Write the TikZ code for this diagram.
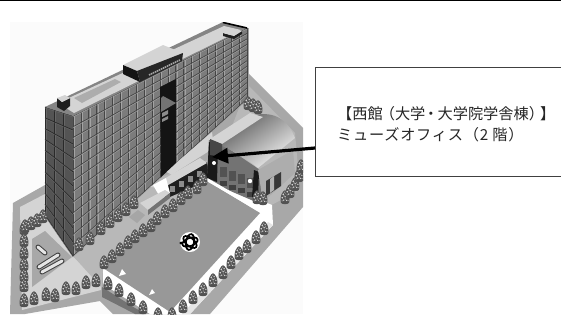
\documentclass[tikz,border=0pt]{standalone}
\usepackage{fontspec}
\usetikzlibrary{calc,arrows.meta}
\newfontfamily\jpwide{Noto Sans CJK JP}
\newfontfamily\jpspaced[LetterSpace=5]{Noto Sans CJK JP}
\definecolor{lotgray}{HTML}{A8A8A8}
\definecolor{lightlot}{HTML}{D4D4D4}
\definecolor{midlot}{HTML}{B8B8B8}
\definecolor{plazagray}{HTML}{989898}
\definecolor{facegray}{HTML}{7C7C7C}
\definecolor{faceline}{HTML}{454545}
\definecolor{sidegray}{HTML}{545454}
\definecolor{sideline}{HTML}{2A2A2A}
\definecolor{darkblock}{HTML}{141414}
\newcommand{\facegrid}[9]{% A B C D cols rows colour
  \fill[#7] (#1)--(#2)--(#3)--(#4)--cycle;
  \foreach \t in {0,...,#5}{\pgfmathsetmacro{\u}{\t/#5}
    \draw[#8,line width=.7pt] ($(#1)!\u!(#2)$)--($(#4)!\u!(#3)$);
    \draw[#9,line width=.35pt] ($(#1)!\u!(#2)+(1,0)$)--($(#4)!\u!(#3)+(1,0)$);}
  \foreach \t in {0,...,#6}{\pgfmathsetmacro{\u}{\t/#6}
    \draw[#8,line width=.7pt] ($(#1)!\u!(#4)$)--($(#2)!\u!(#3)$);
    \draw[#9,line width=.35pt] ($(#1)!\u!(#4)+(0,1)$)--($(#2)!\u!(#3)+(0,1)$);}
}
\newcommand{\treeat}[2]{%
  \begin{scope}[shift={(#1,#2-3)},scale=1.15]
  \fill[black!68] (-3.6,2.5) .. controls (-5,-3) and (-2,-8) .. (0,-8.5) .. controls (2,-8) and (5,-3) .. (3.6,2.5) .. controls (2,4) and (-2,4) .. (-3.6,2.5) -- cycle;
  \fill[black!12] (-1.5,-5) circle (.7) (1,-5.5) circle (.65) (-2.4,-2) circle (.7) (.1,-2.8) circle (.7) (2.5,-2.3) circle (.6) (-1.1,.2) circle (.65) (1.5,.3) circle (.65);
  \fill[black!35] (-.2,-6.8) circle (.6) (-.9,-3.6) circle (.6) (1.4,-3.6) circle (.6) (.2,-.9) circle (.6) (-2.5,.8) circle (.6) (2.8,.6) circle (.5);
  \end{scope}}
\tikzset{
  x=1pt,y=-1pt,
  labeltext/.style={anchor=west,inner sep=0pt,font=\fontsize{15.2}{17}\selectfont,text=black!85},
  infobox/.style={draw=black!75,line width=.9pt,fill=white,anchor=north west,inner sep=0pt},
  pointer/.style={line width=3.2pt,draw=black,-{Triangle[length=16pt,width=15pt]},shorten >=0pt},
}
\begin{document}
\begin{tikzpicture}
\useasboundingbox (0,0) rectangle (561,327);
\fill[white] (0,0) rectangle (561,327);
\fill[black] (0,0) rectangle (561,1);
\begin{scope}
\clip (10,22) rectangle (303,314);
\fill[black!1.5] (10,22) rectangle (303,314);
% lot
\fill[lotgray] (248,73)--(303,128)--(303,207)--(210,314)--(113,314)--(100,301)--(25,314)--(10,314)--(13,203)--(45,185)--cycle;
\fill[lightlot] (20,207)--(45,194)--(73,256)--(101,285)--(101,290)--(22,310)--cycle;
\fill[lotgray] (32,239)--(45,231)--(72,257)--(32,287)--cycle;
\fill[midlot] (73,256)--(161,177)--(208,160)--(207,181)--(103,268)--(102,288)--cycle;
\fill[midlot] (248,85)--(295,133)--(300,190)--(262,210)--(215,170)--cycle;
% buses
\draw[black!75,line width=5pt,line cap=round] (38,247)--(45,253);
\draw[black!10,line width=3pt,line cap=round] (38,247)--(45,253);
\draw[black!75,line width=5pt,line cap=round] (39,267)--(58,255);
\draw[black!10,line width=3pt,line cap=round] (39,267)--(58,255);
\draw[black!75,line width=5pt,line cap=round] (42,272)--(62,261);
\draw[black!10,line width=3pt,line cap=round] (42,272)--(62,261);
% plaza walls
\fill[white] (103,268)--(207,178)--(272,205)--(273,225)--(190,314)--(150,314)--(103,284)--cycle;
\fill[black!55] (102,287)--(135,308)--(146,314)--(135,314)--(102,297)--cycle;
\fill[black!10] (273,225)--(190,314)--(182,314)--(268,222)--cycle;
\fill[plazagray] (103,268)--(207,181)--(260,213)--(170,312)--cycle;
% tower side face
\facegrid{45,107}{73,116}{73,256}{45,215}{3}{10}{sidegray}{sideline}{black!60}
% tower front face
\facegrid{73,116}{247,28}{247,99}{73,256}{22}{13}{facegray}{faceline}{black!36}
% walkway at the tower foot
\fill[lightlot] (165,171)--(176,163)--(212,132)--(214,148)--(176,172)--(172,175)--cycle;
% slot
\fill[darkblock] (160,87)--(176,79)--(176,163)--(161,177)--cycle;
\fill[black!55] (161,98)--(163,96)--(176,103)--(161,112)--cycle;
\fill[black!45] (162,113)--(168,110)--(168,114)--(162,117)--cycle (162,119)--(168,116)--(168,119)--(162,122)--cycle;
% roof
\fill[black!48] (45,107)--(223,22)--(247,28)--(73,116)--cycle;
\fill[lightlot] (58,103)--(224,26)--(241,30)--(74,113)--cycle;
\fill[black!32] (74,98)--(115,79)--(121,82)--(82,103)--cycle;
\draw[black,line width=1.6pt] (223,22.5)--(247,28);
% small penthouses
\fill[black!88] (57,98)--(62,102)--(70,98)--(70,106)--(64,111)--(57,107)--cycle;
\fill[lightlot] (57,98)--(65,95)--(70,98)--(62,102)--cycle;
\fill[black!88] (223,33)--(234,36)--(242,31)--(242,34)--(234,39)--(223,36)--cycle;
\fill[lightlot] (223,33)--(230,28)--(242,31)--(234,36)--cycle;
% central box
\fill[lightlot] (123,65)--(163,45)--(183,53)--(137,71)--cycle;
\fill[darkblock] (123,65)--(137,71)--(140,82)--(123,74)--cycle;
\fill[black!85] (137,71)--(183,53)--(182,61)--(140,82)--cycle;
\draw[black!35,line width=1.6pt,dash pattern=on 1.5pt off .7pt] (149,75)--(180,60);
% low building by the plaza
\fill[black!88] (163,187)--(207,162)--(210,180)--(165,199)--cycle;
\fill[lightlot] (150,187)--(200,158)--(207,163)--(163,188)--cycle;
\foreach \k in {0,1,2,3}{\fill[black!45] ({170+9*\k},{192-5*\k}) rectangle ++(5,-6);}
\fill[white] (153,185)--(166,178)--(170,193)--(160,197)--cycle;
\fill[lightlot] (140,203)--(165,190)--(170,193)--(148,210)--cycle;
\fill[black!55] (148,210)--(170,193)--(170,198)--(148,215)--cycle;
\fill[black!35] (129,217)--(138,210)--(145,215)--(137,223)--cycle;
% west hall
\fill[black!55] (209,140)--(222,144)--(260,170)--(263,205)--(207,181)--cycle;
\foreach \k in {0,1,2,3}{
  \fill[black!68] ({220+9*\k},{167+3.5*\k}) rectangle ++(7,10);
  \fill[black!75] ({220+9*\k},{181+3.5*\k}) rectangle ++(7,5);}
\fill[black!90] (209,142)--(218,146)--(217,182)--(207,178)--cycle;
\fill[black!90] (254,170)--(259,172)--(258,199)--(252,197)--cycle;
\fill[black!32] (258,170)--(293,150)--(295,173)--(263,202)--cycle;
\fill[black!78] (266,181)--(281,172)--(281,186)--(266,196)--cycle;
\fill[black!30] (270,179)--(274,176)--(274,190)--(270,193)--cycle;
\shade[left color=black!65,right color=black!5,shading angle=35]
  (220,145) -- (250,116) .. controls (265,112) and (285,112) .. (295,138)
  -- (258,168) .. controls (248,160) and (238,153) .. (220,145) -- cycle;
\fill[lightlot] (210,139)--(250,113)--(263,117)--(222,144)--cycle;
\fill[black!72] (222,144)--(210,139)--(210,155)--(222,157)--cycle;
\fill[white] (214,163) circle (2);
\fill[white] (250,181) circle (2.2);
% logo
\fill[white] (190,242) circle (10);
\foreach \a in {20,80,140}{\draw[black,line width=1.7pt,rotate around={\a:(190,242)}] (190,242) ellipse (8 and 4);}
\fill[black] (181,243) circle (1.6);
% flags
\fill[white] (119,276)--(122,269)--(126,274)--cycle;
\fill[white] (149,295)--(152,289)--(155,293)--cycle;
% white band of the plaza
\draw[white,line width=3pt] (207,179.5)--(263,212);
% trees
\foreach \p/\q in {
 248/109,253/111,258/113,
 24/234,24/246,24/258,24/270,24/281,24/291,
 25/232,31/229,37/226,43/222,
 24/306,34/304,46/300,55/301,66/294,76/294,86/288,96/286,
 79/250,90/244,101/234,110/227,118/221,126/215,134/208,
 104/268,112/262,120/255,128/248,135/242,143/236,151/231,157/224,165/217,173/211,181/204,188/198,197/193,203/185,
 108/289,119/296,131/305,143/313,
 158/320,172/320,183/312,193/303,203/295,213/286,223/278,231/268,239/259,247/252,256/243,264/234,
 257/203,263/204,
 285/203,290/197,295/190,299/181,301/172}{\treeat{\p}{\q}}
\end{scope}
% label box and pointer
\node[infobox,minimum width=250pt,minimum height=109pt] (info) at (315,67) {};
\node[labeltext] (line1) at (337,114) {\jpwide 【西館\kern-3pt（大学\kern-2pt・\kern-1pt大学院学舎棟）\kern-4pt】};
\node[labeltext] (line2) at (337,135) {\jpspaced ミューズオフィス（2 階）};
\coordinate (tip) at (212,157);
\coordinate (start) at (info.west |- 0,148);
\draw[pointer] (start)--(tip);
\end{tikzpicture}
\end{document}
